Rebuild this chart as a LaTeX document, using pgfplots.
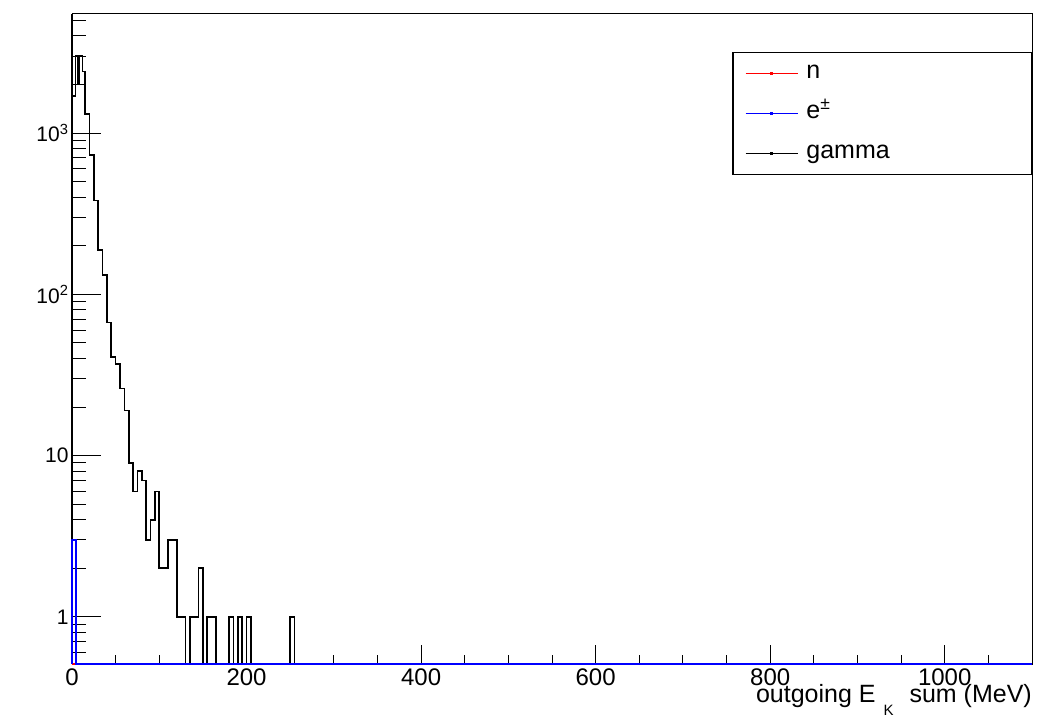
\documentclass[border=0pt]{standalone}
\usepackage{fontspec}
\setmainfont{Liberation Sans}
\usepackage{pgfplots}
\pgfplotsset{compat=1.18}
\pgfplotstableread{
x y
0 0.51
0 1700
4 3000
7 2000
8.5 3000
12 2400
15 1313
20 728
25 381
30 188
35 132
40 67
45 41
50 37
55 26
60 19
65 9
70 6
75 8
80 7
85 3
90 4
95 6
100 2
110 3
120 1
130 0.51
135 1
145 2
150 0.51
155 1
165 0.51
180 1
185 0.51
190 1
195 0.51
200 1
205 0.51
250 1
255 0.51
1100 0.51
}\gammatab
\pgfplotstableread{
x y
0 0.51
0 3
5 0.51
1100 0.51
}\eptab
\pgfplotstableread{
x y
0 0.51
1100 0.51
}\ntab
\begin{document}
\begin{tikzpicture}
\path (-72bp,-64bp) rectangle (981bp,664bp);
% x axis ticks and box
\begin{axis}[
  at={(0,0)}, anchor=south west, scale only axis,
  width=960bp, height=650bp,
  xmin=0, xmax=1100, ymode=log, ymin=0.51, ymax=5470,
  axis line style={line width=1bp},
  tick align=inside, xtick pos=lower,
  ytick=\empty,
  xtick={0,200,400,600,800,1000},
  xticklabels={0,200,400,600,800,1000},
  minor xtick={50,100,150,250,300,350,450,500,550,650,700,750,850,900,950,1050},
  major tick length=19bp, minor tick length=9bp,
  tick style={line width=1bp, black},
  xticklabel style={font=\fontsize{24bp}{28bp}\selectfont, yshift=-1bp},
  xlabel={outgoing E\hspace{8bp}\raisebox{-13bp}{\fontsize{15bp}{15bp}\selectfont K}\hspace{16bp}sum (MeV)},
  xlabel style={at={(1,0)}, anchor=base east, yshift=-38bp, inner sep=0pt, font=\fontsize{25bp}{29bp}\selectfont},
]
\addplot[draw=none, forget plot] coordinates {(0,1) (1100,1)};
\end{axis}
% data, y ticks, legend
\begin{axis}[
  at={(0,0)}, anchor=south west, scale only axis,
  width=960bp, height=650bp,
  xmin=0, xmax=1100, ymode=log, ymin=0.51, ymax=5470,
  hide x axis,
  axis line style={line width=1bp},
  tick align=inside, ytick pos=left,
  ytick={1,10,100,1000},
  yticklabels={1,10,10\textsuperscript{2}\hspace{9bp},10\textsuperscript{3}\hspace{9bp}},
  minor ytick={0.6,0.7,0.8,0.9,2,3,4,5,6,7,8,9,20,30,40,50,60,70,80,90,200,300,400,500,600,700,800,900,2000,3000,4000,5000},
  major tick length=29bp, minor tick length=14bp,
  tick style={line width=1bp, black},
  yticklabel style={font=\fontsize{21bp}{25bp}\selectfont},
  clip=false,
  legend cell align=left,
  legend style={at={(1,0.9415)}, anchor=north east, line width=1.2bp, fill=white,
    inner xsep=12bp, inner ysep=4bp, /tikz/row sep=6bp, /tikz/column sep=0pt,
    nodes={inner sep=0pt, text height=22bp, text depth=12bp},
    font=\fontsize{25bp}{29bp}\selectfont},
  legend image code/.code={\draw[#1] (0bp,0bp) -- (52bp,0bp); \fill[fill=black] (25.3bp,-0.7bp) rectangle (26.7bp,0.7bp);},
]
\addplot[const plot, black, line width=1.6bp, forget plot] table {\gammatab};
\addplot[const plot, red, line width=1.8bp, forget plot] table {\ntab};
\addplot[const plot, blue, line width=1.8bp, forget plot] table {\eptab};
\addlegendimage{draw=red, line width=1.4bp}
\addlegendentry{\makebox[221bp][l]{\hspace{8bp}n}}
\addlegendimage{draw=blue, line width=1.4bp}
\addlegendentry{\makebox[221bp][l]{\hspace{8bp}e\textsuperscript{±}}}
\addlegendimage{draw=black, line width=1.4bp}
\addlegendentry{\makebox[221bp][l]{\hspace{8bp}gamma}}
\end{axis}
\end{tikzpicture}
\end{document}
